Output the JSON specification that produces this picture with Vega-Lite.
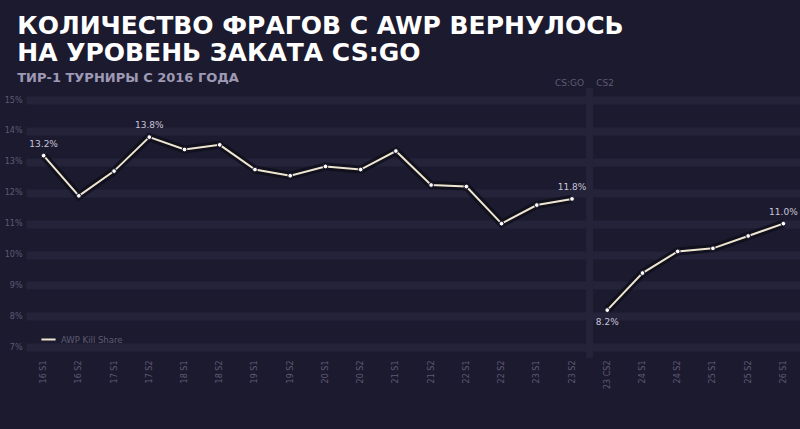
{
  "$schema": "https://vega.github.io/schema/vega-lite/v6.json",
  "background": "#1c1a2e",
  "padding": {"top": 14, "left": 4, "right": 0, "bottom": 40},
  "width": 775,
  "height": 270,
  "title": {
    "text": ["КОЛИЧЕСТВО ФРАГОВ С AWP ВЕРНУЛОСЬ", "НА УРОВЕНЬ ЗАКАТА CS:GO"],
    "subtitle": "ТИР-1 ТУРНИРЫ С 2016 ГОДА",
    "anchor": "start",
    "frame": "bounds",
    "font": "DejaVu Sans",
    "fontSize": 25,
    "fontWeight": 900,
    "lineHeight": 27,
    "color": "#ffffff",
    "subtitleFont": "DejaVu Sans",
    "subtitleFontSize": 13,
    "subtitleFontWeight": "bold",
    "subtitleColor": "#9e9ab6",
    "subtitlePadding": 6,
    "offset": -6,
    "dx": 13
  },
  "data": {
    "values": [
      {"period": "16 S1", "share": 13.2, "era": "CS:GO", "note": "13.2%"},
      {"period": "16 S2", "share": 11.9, "era": "CS:GO"},
      {"period": "17 S1", "share": 12.7, "era": "CS:GO"},
      {"period": "17 S2", "share": 13.8, "era": "CS:GO", "note": "13.8%"},
      {"period": "18 S1", "share": 13.4, "era": "CS:GO"},
      {"period": "18 S2", "share": 13.55, "era": "CS:GO"},
      {"period": "19 S1", "share": 12.75, "era": "CS:GO"},
      {"period": "19 S2", "share": 12.55, "era": "CS:GO"},
      {"period": "20 S1", "share": 12.85, "era": "CS:GO"},
      {"period": "20 S2", "share": 12.75, "era": "CS:GO"},
      {"period": "21 S1", "share": 13.35, "era": "CS:GO"},
      {"period": "21 S2", "share": 12.25, "era": "CS:GO"},
      {"period": "22 S1", "share": 12.2, "era": "CS:GO"},
      {"period": "22 S2", "share": 11.0, "era": "CS:GO"},
      {"period": "23 S1", "share": 11.6, "era": "CS:GO"},
      {"period": "23 S2", "share": 11.8, "era": "CS:GO", "note": "11.8%"},
      {"period": "23 CS2", "share": 8.2, "era": "CS2", "note": "8.2%"},
      {"period": "24 S1", "share": 9.4, "era": "CS2"},
      {"period": "24 S2", "share": 10.1, "era": "CS2"},
      {"period": "25 S1", "share": 10.2, "era": "CS2"},
      {"period": "25 S2", "share": 10.6, "era": "CS2"},
      {"period": "26 S1", "share": 11.0, "era": "CS2", "note": "11.0%"}
    ]
  },
  "encoding": {
    "x": {
      "field": "period",
      "type": "ordinal",
      "sort": null,
      "scale": {
        "type": "point",
        "padding": 0.5,
        "domain": ["16 S1", "16 S2", "17 S1", "17 S2", "18 S1", "18 S2", "19 S1", "19 S2", "20 S1", "20 S2", "21 S1", "21 S2", "22 S1", "22 S2", "23 S1", "23 S2", "23 CS2", "24 S1", "24 S2", "25 S1", "25 S2", "26 S1"]
      },
      "axis": {
        "title": null,
        "labelAngle": 270,
        "labelAlign": "right",
        "labelBaseline": "middle",
        "labelFont": "DejaVu Sans",
        "labelFontSize": 8,
        "labelColor": "#5c5a74",
        "labelPadding": 2,
        "ticks": false,
        "domain": false,
        "grid": false
      }
    },
    "y": {
      "field": "share",
      "type": "quantitative",
      "scale": {"domain": [6.65, 15.39], "nice": false, "zero": false},
      "axis": {
        "title": null,
        "values": [7, 8, 9, 10, 11, 12, 13, 14, 15],
        "labelExpr": "datum.value + '%'",
        "labelFont": "DejaVu Sans",
        "labelFontSize": 8,
        "labelColor": "#5c5a74",
        "labelPadding": 4,
        "ticks": false,
        "domain": false,
        "grid": true,
        "gridColor": "#25233a",
        "gridWidth": 8
      }
    }
  },
  "layer": [
    {
      "mark": {"type": "line", "color": "#0e0d18", "strokeWidth": 8, "opacity": 0.75},
      "encoding": {"detail": {"field": "era"}}
    },
    {
      "data": {"values": [{"split": "23 S2"}]},
      "mark": {"type": "rule", "color": "#25233a", "strokeWidth": 7, "xOffset": 17.6},
      "encoding": {"x": {"field": "split", "type": "ordinal"}, "y": {"value": 0}, "y2": {"value": 270}}
    },
    {
      "data": {"values": [{"period": "23 S2", "text": "CS:GO"}]},
      "mark": {"type": "text", "align": "right", "baseline": "bottom", "dx": 12, "dy": 0, "font": "DejaVu Sans", "fontSize": 9, "color": "#5c5a74"},
      "encoding": {"x": {"field": "period", "type": "ordinal"}, "y": {"value": 0}, "text": {"field": "text"}}
    },
    {
      "data": {"values": [{"period": "23 CS2", "text": "CS2"}]},
      "mark": {"type": "text", "align": "left", "baseline": "bottom", "dx": -11, "dy": 0, "font": "DejaVu Sans", "fontSize": 9, "color": "#5c5a74"},
      "encoding": {"x": {"field": "period", "type": "ordinal"}, "y": {"value": 0}, "text": {"field": "text"}}
    },
    {
      "mark": {"type": "line", "strokeWidth": 2},
      "encoding": {
        "detail": {"field": "era"},
        "color": {
          "datum": "AWP Kill Share",
          "scale": {"range": ["#efe6d2"]},
          "legend": {
            "title": null,
            "orient": "bottom-left",
            "offset": 12,
            "symbolType": "stroke",
            "symbolStrokeWidth": 2,
            "symbolSize": 200,
            "labelFont": "DejaVu Sans",
            "labelFontSize": 8.5,
            "labelColor": "#5c5a74",
            "padding": 2
          }
        }
      }
    },
    {
      "mark": {"type": "point", "filled": true, "fill": "#ffffff", "stroke": "#1c1a2e", "strokeWidth": 1, "size": 22, "opacity": 1}
    },
    {
      "transform": [{"filter": "datum.note && datum.share > 9"}],
      "mark": {"type": "text", "baseline": "bottom", "dy": -7, "font": "DejaVu Sans", "fontSize": 9, "color": "#c9c5da"},
      "encoding": {"text": {"field": "note"}}
    },
    {
      "transform": [{"filter": "datum.note && datum.share < 9"}],
      "mark": {"type": "text", "baseline": "top", "dy": 8, "font": "DejaVu Sans", "fontSize": 9, "color": "#c9c5da"},
      "encoding": {"text": {"field": "note"}}
    }
  ],
  "config": {"view": {"stroke": null}}
}
